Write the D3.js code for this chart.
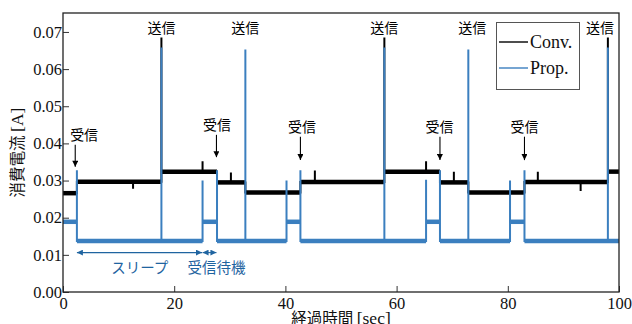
<!DOCTYPE html>
<html>
<head>
<meta charset="utf-8">
<script src="https://cdn.jsdelivr.net/npm/d3@7"></script>
<style>
  body { margin: 0; background: #fff; }
  svg { display: block; }
  .tick text { font-family: "Liberation Serif", serif; font-size: 16.5px; fill: #111; }
  .jp { font-family: "Noto Sans CJK JP", sans-serif; }
</style>
</head>
<body>
<script>
// time (sec) and current (A)
const convBreaks = [0, 2.5, 17.7, 27.7, 32.8, 42.7, 57.8, 67.8, 72.9, 83.0, 98.0, 100]
const convLevels = [0.0266, 0.0297, 0.0324, 0.0295, 0.0268, 0.0296, 0.0324, 0.0295, 0.0268, 0.0296, 0.0324]
const convSpikeT = [12.6, 17.7, 25.1, 30.2, 45.3, 57.8, 65.3, 70.3, 85.4, 93.1, 98.0]
const convSpikeA = [0.0278, 0.0685, 0.0352, 0.0322, 0.0327, 0.0685, 0.0352, 0.0324, 0.0324, 0.0272, 0.0685]

const propBreaks = [0, 2.5, 25.1, 27.7, 40.2, 42.7, 65.3, 67.8, 80.4, 83.0, 100]
const propLevels = [0.0189, 0.0137, 0.0189, 0.0137, 0.0189, 0.0137, 0.0189, 0.0137, 0.0189, 0.0137]
const propSpikeT = [2.5, 17.7, 25.1, 27.7, 32.8, 40.2, 42.7, 57.8, 65.3, 67.8, 72.9, 80.4, 83.0, 98.0]
const propSpikeA = [0.0328, 0.0658, 0.0300, 0.0328, 0.0653, 0.0300, 0.0328, 0.0658, 0.0302, 0.0328, 0.0653, 0.0300, 0.0328, 0.0658]

const sendLabelT = [17.7, 32.8, 57.8, 73.6, 96.6]
const recvT = [2.2, 27.6, 42.7, 67.8, 83.0]
const recvLabelT = [3.8, 27.7, 43.0, 67.7, 83.0]
const recvTipA = [0.0337, 0.0363, 0.0355, 0.0355, 0.0355]
const recvLabelA = [0.0423, 0.0450, 0.0445, 0.0445, 0.0445]

const spanNames = ["スリープ", "受信待機"]
const spanFrom = [2.5, 25.1]
const spanTo = [25.0, 27.6]
const spanLabelT = [13.8, 27.6]

const xTicks = [0, 20, 40, 60, 80, 100]
const yTicks = [0, 0.01, 0.02, 0.03, 0.04, 0.05, 0.06, 0.07]

const W = 632, H = 324
const m = {top: 13, right: 13, bottom: 32, left: 63}
const blue = "#3b7fbf", darkBlue = "#1f64a0"

const svg = d3.select("body").append("svg").attr("width", W).attr("height", H)
const x = d3.scaleLinear([0, 100], [m.left, W - m.right])
const y = d3.scaleLinear([0, 0.0751], [H - m.bottom, m.top])

const defs = svg.append("defs")
const mk = (id, color, len, wid) => defs.append("marker").attr("id", id)
  .attr("viewBox", "0 0 10 10").attr("refX", 10).attr("refY", 5)
  .attr("markerUnits", "userSpaceOnUse").attr("markerWidth", len).attr("markerHeight", wid)
  .attr("orient", "auto-start-reverse")
  .append("path").attr("d", "M0,0L10,5L0,10z").attr("fill", color)
mk("ab", "#000", 7, 6)
mk("abl", darkBlue, 7, 6)

// build the vertex list of a step trace with vertical spikes
function trace(breaks, levels, sT, sA) {
  const pts = []
  levels.forEach((L, i) => {
    const t0 = breaks[i], t1 = breaks[i + 1]
    pts.push([t0, L])
    sT.forEach((t, j) => { if (t > t0 && t < t1) pts.push([t, L], [t, sA[j]], [t, L]) })
    pts.push([t1, L])
    sT.forEach((t, j) => { if (t === t1) pts.push([t1, sA[j]]) })
  })
  return pts
}
const line = d3.line(d => x(d[0]), d => y(d[1]))

const plot = svg.append("g")
function drawSeries(breaks, levels, sT, sA, color) {
  // noisy band of each level
  plot.append("g").selectAll("line").data(levels).enter().append("line")
    .attr("x1", (d, i) => x(breaks[i])).attr("x2", (d, i) => x(breaks[i + 1]))
    .attr("y1", d => y(d)).attr("y2", d => y(d))
    .attr("stroke", color).attr("stroke-width", 4.5)
  plot.append("path").datum(trace(breaks, levels, sT, sA))
    .attr("d", line).attr("fill", "none").attr("stroke", color).attr("stroke-width", 2)
}
drawSeries(convBreaks, convLevels, convSpikeT, convSpikeA, "#000")
drawSeries(propBreaks, propLevels, propSpikeT, propSpikeA, blue)

// axes with inward ticks
const xAxis = svg.append("g").attr("transform", `translate(0,${H - m.bottom})`)
  .call(d3.axisBottom(x).tickValues(xTicks).tickSize(-6).tickSizeOuter(0).tickPadding(5))
const yAxis = svg.append("g").attr("transform", `translate(${m.left},0)`)
  .call(d3.axisLeft(y).tickValues(yTicks).tickFormat(d3.format(".2f")).tickSize(-6).tickSizeOuter(0).tickPadding(1))
xAxis.select(".domain").remove()
yAxis.select(".domain").remove()
svg.selectAll(".tick line").attr("stroke", "#333")

svg.append("rect").attr("x", m.left).attr("y", m.top)
  .attr("width", W - m.left - m.right).attr("height", H - m.top - m.bottom)
  .attr("fill", "none").attr("stroke", "#222").attr("stroke-width", 1.3)

// 送信 labels
svg.append("g").selectAll("text").data(sendLabelT).enter().append("text")
  .attr("class", "jp").attr("x", d => x(d)).attr("y", 33)
  .attr("text-anchor", "middle").attr("font-size", 14).attr("fill", "#000").text("送信")

// 受信 labels and arrows
const rg = svg.append("g")
rg.selectAll("line").data(recvT).enter().append("line")
  .attr("x1", d => x(d)).attr("x2", d => x(d))
  .attr("y1", (d, i) => y(recvLabelA[i]) + 10).attr("y2", (d, i) => y(recvTipA[i]))
  .attr("stroke", "#000").attr("stroke-width", 1.1).attr("marker-end", "url(#ab)")
rg.selectAll("text").data(recvLabelT).enter().append("text")
  .attr("class", "jp").attr("x", d => x(d)).attr("y", (d, i) => y(recvLabelA[i]) + 5)
  .attr("text-anchor", "middle").attr("font-size", 14).attr("fill", "#000").text("受信")

// blue span arrows
const sg = svg.append("g")
sg.selectAll("line").data(spanFrom).enter().append("line")
  .attr("x1", d => x(d)).attr("x2", (d, i) => x(spanTo[i]))
  .attr("y1", y(0.0106)).attr("y2", y(0.0106))
  .attr("stroke", darkBlue).attr("stroke-width", 1.1)
  .attr("marker-start", "url(#abl)").attr("marker-end", "url(#abl)")
sg.selectAll("text").data(spanNames).enter().append("text")
  .attr("class", "jp").attr("x", (d, i) => x(spanLabelT[i])).attr("y", y(0.0051))
  .attr("text-anchor", "middle").attr("font-size", 14.5).attr("fill", darkBlue).text(d => d)

// legend
const lg = svg.append("g")
lg.append("rect").attr("x", 496.5).attr("y", 22.5).attr("width", 83).attr("height", 67)
  .attr("fill", "#fff").attr("stroke", "#555").attr("stroke-width", 1)
const lgNames = ["Conv.", "Prop."], lgColors = ["#000", blue]
lgNames.forEach((n, i) => {
  const ly = 42 + i * 26
  lg.append("line").attr("x1", 499).attr("x2", 528).attr("y1", ly).attr("y2", ly)
    .attr("stroke", lgColors[i]).attr("stroke-width", 1.4)
  lg.append("text").attr("x", 530).attr("y", ly + 6)
    .attr("font-family", "Liberation Serif, serif").attr("font-size", 18).attr("fill", "#111").text(n)
})

// axis titles
svg.append("text").attr("x", (m.left + W - m.right) / 2).attr("y", 324)
  .attr("text-anchor", "middle").attr("fill", "#111")
  .html('<tspan font-family="Noto Sans CJK JP" font-size="15.5">経過時間 </tspan><tspan font-family="Liberation Serif" font-size="17.5">[sec]</tspan>')
svg.append("text").attr("transform", `translate(23,${(m.top + H - m.bottom) / 2}) rotate(-90)`)
  .attr("text-anchor", "middle").attr("fill", "#111")
  .html('<tspan font-family="Noto Sans CJK JP" font-size="15.5">消費電流 </tspan><tspan font-family="Liberation Serif" font-size="17.5">[A]</tspan>')
</script>
</body>
</html>
